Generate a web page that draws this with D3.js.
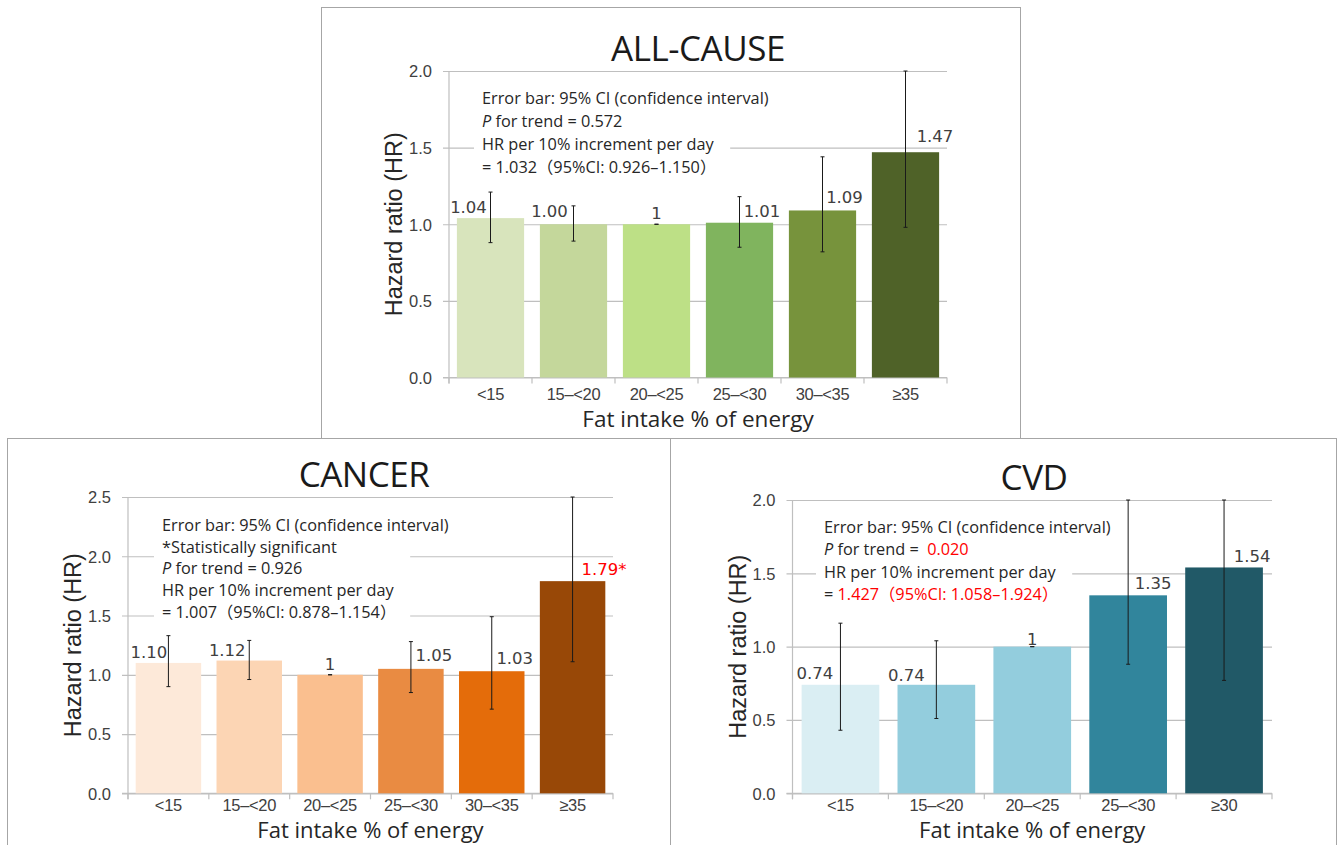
<!DOCTYPE html>
<html>
<head>
<meta charset="utf-8">
<script src="https://cdn.jsdelivr.net/npm/d3@7"></script>
<style>
  body { margin: 0; background: #fff; }
  svg { display: block; }
  text { white-space: pre; }
</style>
</head>
<body>
<svg id="fig" width="1339" height="845"></svg>
<script>
// ---- data ----
const fatGroups6 = ["<15", "15–<20", "20–<25", "25–<30", "30–<35", "≥35"];
const fatGroups5 = ["<15", "15–<20", "20–<25", "25–<30", "≥30"];

const allCauseHR = [1.04, 1.00, 1, 1.01, 1.09, 1.47];
const allCauseLo = [0.88, 0.89, 1, 0.85, 0.82, 0.98];
const allCauseHi = [1.21, 1.12, 1, 1.18, 1.44, 2.0];
const allCauseRef = 2;
const allCauseSig = [false, false, false, false, false, false];

const cancerHR = [1.10, 1.12, 1, 1.05, 1.03, 1.79];
const cancerLo = [0.90, 0.96, 1, 0.85, 0.71, 1.11];
const cancerHi = [1.33, 1.29, 1, 1.28, 1.49, 2.5];
const cancerRef = 2;
const cancerSig = [false, false, false, false, false, true];

const cvdHR = [0.74, 0.74, 1, 1.35, 1.54];
const cvdLo = [0.43, 0.51, 1, 0.88, 0.77];
const cvdHi = [1.16, 1.04, 1, 2.0, 2.0];
const cvdRef = 2;
const cvdSig = [false, false, false, false, false];

const ticks2 = [0, 0.5, 1.0, 1.5, 2.0];
const ticks25 = [0, 0.5, 1.0, 1.5, 2.0, 2.5];

// note lines: each line is a list of [text, style] pieces (i = italic, r = red)
const allCauseNotes = [
  [["Error bar: 95% CI (confidence interval)"]],
  [["P", "i"], [" for trend = 0.572"]],
  [["HR per 10% increment per day"]],
  [["= 1.032（95%CI: 0.926–1.150）"]]
];
const cancerNotes = [
  [["Error bar: 95% CI (confidence interval)"]],
  [["*Statistically significant"]],
  [["P", "i"], [" for trend = 0.926"]],
  [["HR per 10% increment per day"]],
  [["= 1.007（95%CI: 0.878–1.154）"]]
];
const cvdNotes = [
  [["Error bar: 95% CI (confidence interval)"]],
  [["P", "i"], [" for trend =  "], ["0.020", "r"]],
  [["HR per 10% increment per day"]],
  [["= "], ["1.427（95%CI: 1.058–1.924）", "r"]]
];

// ---- styling ----
const greens = ["#d8e4bc", "#c4d79b", "#bde086", "#80b45e", "#77933c", "#4f6228"];
const oranges = ["#fde9d9", "#fcd5b4", "#fabf8f", "#e98b42", "#e46c0a", "#984807"];
const blues = ["#daeef3", "#93cddd", "#93cddd", "#31859c", "#215967"];

const GRID = "#bfbfbf";
const FRAME = "#a6a6a6";
const SANS = "'Open Sans', 'Noto Sans CJK JP', sans-serif";
const ARIAL = "'Liberation Sans', Arial, sans-serif";
const VALUE_FONT = "'DejaVu Sans', Verdana, sans-serif";

const svg = d3.select("#fig");
svg.append("rect").attr("width", 1339).attr("height", 845).attr("fill", "#fff");

const panels = [
  {
    title: "ALL-CAUSE", cats: fatGroups6, hr: allCauseHR, lo: allCauseLo, hi: allCauseHi,
    ref: allCauseRef, sig: allCauseSig, colors: greens, ticks: ticks2, ymax: 2.0,
    notes: allCauseNotes,
    frame: [321, 7, 1020, 438],
    left: 449, right: 947, top: 71, bottom: 377.5,
    titleX: 698, titleY: 61,
    noteX: 482, noteY: 104, noteGap: 23,
    tickLabelDy: 22.5, xLabelY: 427, xLabelSize: 22.5,
    labelDx: [-22, -24, 0, 22.5, 22, 29.5],
    labelLift: [5, 7, 5, 5.5, 7, 10]
  },
  {
    title: "CANCER", cats: fatGroups6, hr: cancerHR, lo: cancerLo, hi: cancerHi,
    ref: cancerRef, sig: cancerSig, colors: oranges, ticks: ticks25, ymax: 2.5,
    notes: cancerNotes,
    frame: [7, 438, 670, 850],
    left: 128, right: 613, top: 497, bottom: 793.3,
    titleX: 364, titleY: 487,
    noteX: 162, noteY: 531, noteGap: 21.7,
    tickLabelDy: 17.5, xLabelY: 837.5, xLabelSize: 22,
    labelDx: [-19.5, -22, 0, 23, 23, 31.5],
    labelLift: [5, 4.5, 5, 7.5, 7, 6.5]
  },
  {
    title: "CVD", cats: fatGroups5, hr: cvdHR, lo: cvdLo, hi: cvdHi,
    ref: cvdRef, sig: cvdSig, colors: blues, ticks: ticks2, ymax: 2.0,
    notes: cvdNotes,
    frame: [670, 438, 1336, 850],
    left: 792.5, right: 1272, top: 500, bottom: 793.3,
    titleX: 1034, titleY: 490,
    noteX: 824, noteY: 533, noteGap: 22.3,
    tickLabelDy: 17.5, xLabelY: 837.5, xLabelSize: 22,
    labelDx: [-25.5, -30, 0, 25, 28],
    labelLift: [5.5, 4, 2, 6, 5]
  }
];

function drawPanel(p) {
  const g = svg.append("g");
  const [fx0, fy0, fx1, fy1] = p.frame;

  // panel frame
  g.append("rect")
    .attr("x", fx0 + 0.5).attr("y", fy0 + 0.5)
    .attr("width", fx1 - fx0).attr("height", fy1 - fy0)
    .attr("fill", "#fff").attr("stroke", FRAME).attr("stroke-width", 1);

  const x = d3.scaleBand().domain(p.cats).range([p.left, p.right])
    .paddingInner(0.19).paddingOuter(0.095);
  const y = d3.scaleLinear().domain([0, p.ymax]).range([p.bottom, p.top]);
  const w = p.right - p.left;

  // y axis with gridlines
  const yAxis = g.append("g").attr("transform", `translate(${p.left},0)`)
    .call(d3.axisLeft(y).tickValues(p.ticks).tickFormat(d3.format(".1f")).tickSizeInner(-w).tickSizeOuter(0));
  yAxis.select(".domain").remove();
  yAxis.selectAll(".tick line").attr("x1", -6).attr("x2", w).attr("stroke", GRID).attr("stroke-width", 1.2);
  yAxis.selectAll(".tick text").attr("x", -17).attr("dy", "0.36em")
    .attr("font-family", ARIAL).attr("font-size", 16.5).attr("fill", "#404040");

  // axis lines
  g.append("line").attr("x1", p.left).attr("x2", p.left).attr("y1", p.top).attr("y2", p.bottom + 6)
    .attr("stroke", GRID).attr("stroke-width", 1.2);
  g.append("line").attr("x1", p.left - 6).attr("x2", p.right).attr("y1", p.bottom).attr("y2", p.bottom)
    .attr("stroke", GRID).attr("stroke-width", 1.2);
  d3.range(p.cats.length + 1).forEach(i => {
    const bx = p.left + i * x.step();
    g.append("line").attr("x1", bx).attr("x2", bx).attr("y1", p.bottom).attr("y2", p.bottom + 6)
      .attr("stroke", GRID).attr("stroke-width", 1.2);
  });

  // x tick labels
  const xAxis = g.append("g").attr("transform", `translate(0,${p.bottom})`)
    .call(d3.axisBottom(x).tickSize(0).tickPadding(0));
  xAxis.select(".domain").remove();
  xAxis.selectAll(".tick text").attr("y", p.tickLabelDy).attr("dy", 0)
    .attr("font-family", ARIAL).attr("font-size", 16.5).attr("fill", "#404040")
    .attr("letter-spacing", -0.3);

  // note block with white backing
  const notes = g.append("g");
  const lines = p.notes.map((segs, i) => {
    const t = notes.append("text")
      .attr("x", p.noteX).attr("y", p.noteY + i * p.noteGap)
      .attr("font-family", SANS).attr("font-size", 16.3).attr("fill", "#262626");
    segs.forEach(([txt, st]) => {
      const ts = t.append("tspan").text(txt);
      if (st === "i") ts.attr("font-style", "italic");
      if (st === "r") ts.attr("fill", "#ff0000");
    });
    return t;
  });
  const innerW = d3.max(lines.slice(1), t => t.node().getComputedTextLength());
  notes.insert("rect", "text")
    .attr("x", p.noteX - 8).attr("y", p.noteY - 18)
    .attr("width", innerW + 22)
    .attr("height", (p.notes.length - 1) * p.noteGap + 25)
    .attr("fill", "#fff");

  // bars
  g.append("g").selectAll("rect").data(p.hr).join("rect")
    .attr("x", (d, i) => x(p.cats[i]))
    .attr("y", d => y(d))
    .attr("width", x.bandwidth())
    .attr("height", d => y(0) - y(d))
    .attr("fill", (d, i) => p.colors[i]);

  // 95% CI whiskers
  const cx = i => x(p.cats[i]) + x.bandwidth() / 2;
  const eb = g.append("g").attr("stroke", "#1a1a1a").attr("stroke-width", 1);
  p.hr.forEach((d, i) => {
    const yl = y(p.lo[i]), yh = y(Math.min(p.hi[i], p.ymax));
    eb.append("line").attr("x1", cx(i)).attr("x2", cx(i)).attr("y1", yh).attr("y2", yl);
    eb.append("line").attr("x1", cx(i) - 2).attr("x2", cx(i) + 2).attr("y1", yh).attr("y2", yh);
    eb.append("line").attr("x1", cx(i) - 2).attr("x2", cx(i) + 2).attr("y1", yl).attr("y2", yl);
  });

  // value labels
  g.append("g").selectAll("text").data(p.hr).join("text")
    .attr("x", (d, i) => cx(i) + p.labelDx[i])
    .attr("y", (d, i) => y(d) - p.labelLift[i])
    .attr("text-anchor", "middle")
    .attr("font-family", VALUE_FONT).attr("font-size", 16.5)
    .attr("fill", (d, i) => p.sig[i] ? "#ff0000" : "#404040")
    .text((d, i) => (i === p.ref ? "1" : d3.format(".2f")(d)) + (p.sig[i] ? "*" : ""));

  // titles
  g.append("text").attr("x", p.titleX).attr("y", p.titleY).attr("text-anchor", "middle")
    .attr("font-family", SANS).attr("font-size", 35).attr("fill", "#1a1a1a")
    .attr("letter-spacing", -0.5)
    .text(p.title);
  g.append("text").attr("x", (p.left + p.right) / 2).attr("y", p.xLabelY).attr("text-anchor", "middle")
    .attr("font-family", SANS).attr("font-size", p.xLabelSize).attr("fill", "#262626")
    .text("Fat intake % of energy");
  g.append("text")
    .attr("transform", `translate(${p.left - 47},${(p.top + p.bottom) / 2}) rotate(-90)`)
    .attr("text-anchor", "middle")
    .attr("font-family", ARIAL).attr("font-size", 23.5).attr("fill", "#262626")
    .text("Hazard ratio (HR)");
}

// the top panel is drawn last so its frame edge sits on top
drawPanel(panels[1]);
drawPanel(panels[2]);
drawPanel(panels[0]);
</script>
</body>
</html>
